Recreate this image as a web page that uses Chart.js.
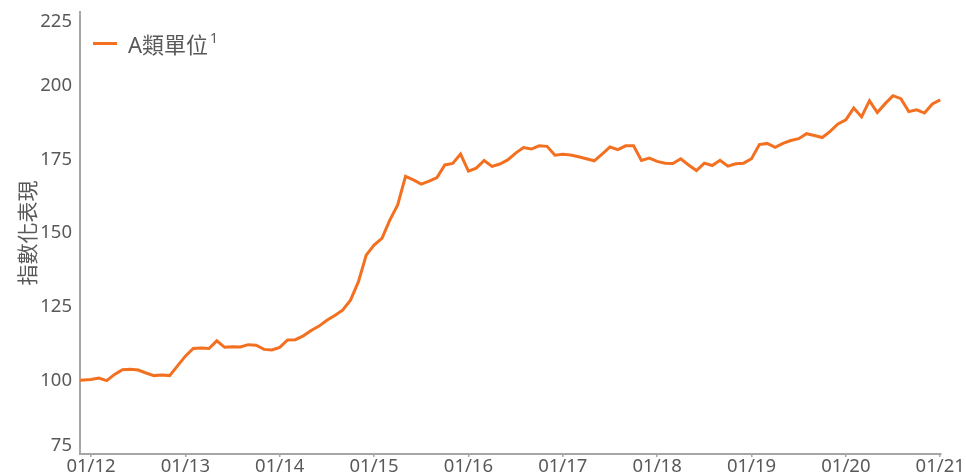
<!DOCTYPE html>
<html>
<head>
<meta charset="utf-8">
<script src="https://cdn.jsdelivr.net/npm/chart.js@4.4.1/dist/chart.umd.min.js"></script>
<style>
  html, body { margin: 0; padding: 0; background: #ffffff; }
  #wrap { width: 966px; height: 475px; }
</style>
</head>
<body>
<div id="wrap"><canvas id="c" width="966" height="475"></canvas></div>
<script>
// ---- data ----
const seriesName = 'A類單位';
const seriesNote = '1';
const yAxisTitle = '指數化表現';
const xTickLabels = ['01/12', '01/13', '01/14', '01/15', '01/16', '01/17', '01/18', '01/19', '01/20', '01/21'];
const xTickMonths = [0, 12, 24, 36, 48, 60, 72, 84, 96, 108];   // months after 01/12
const yTickValues = [75, 100, 125, 150, 175, 200, 225];
const inceptionMonth = -1.4;   // first point, shortly before 01/12
const inceptionValue = 100;
// month-end index values, 01/12 ... 01/21
const monthlyValues = [
  100.3, 100.8, 99.9, 102.0, 103.6, 103.8, 103.5, 102.5, 101.6, 101.8, 101.6, 104.9,
  108.2, 110.8, 111.0, 110.8, 113.4, 111.2, 111.4, 111.3, 112.1, 111.9, 110.5, 110.3,
  111.2, 113.7, 113.8, 115.1, 116.9, 118.4, 120.4, 122.0, 123.8, 127.2, 133.4, 142.5,
  145.9, 148.2, 154.4, 159.5, 169.2, 168.0, 166.6, 167.6, 168.8, 173.1, 173.6, 176.8,
  171.0, 172.0, 174.6, 172.6, 173.4, 174.8, 177.1, 179.0, 178.5, 179.6, 179.4, 176.4,
  176.7, 176.5, 175.9, 175.2, 174.5, 176.8, 179.2, 178.3, 179.6, 179.6, 174.6, 175.4,
  174.3, 173.7, 173.6, 175.2, 173.1, 171.2, 173.7, 172.9, 174.7, 172.7, 173.5, 173.7,
  175.2, 180.0, 180.4, 179.1, 180.4, 181.4, 182.0, 183.7, 183.1, 182.4, 184.5, 187.0,
  188.4, 192.4, 189.4, 194.9, 190.9, 193.9, 196.6, 195.6, 191.2, 191.8, 190.7, 193.8,
  195.2
];

// ---- styles ----
const ORANGE = '#f37021';
const TEXT = '#595959';
const AXIS = '#a6a6a6';
const FAMILY = '"Noto Sans", "Noto Sans CJK TC", sans-serif';

const points = [{ x: inceptionMonth, y: inceptionValue }]
  .concat(monthlyValues.map((v, i) => ({ x: i, y: v })));

Chart.defaults.font.family = FAMILY;
Chart.defaults.color = TEXT;

const edgeTickPlugin = {
  id: 'edgeTicks',
  afterLayout(chart) {
    const s = chart.scales.y;
    const items = s.getLabelItems();
    if (!items || !items.length) return;
    items[0].options.translation[1] -= 8.5;
    items[items.length - 1].options.translation[1] += 9.5;
  }
};

const legendPlugin = {
  id: 'innerLegend',
  afterDraw(chart) {
    const ctx = chart.ctx;
    const a = chart.chartArea;
    const ds = chart.data.datasets[0];
    ctx.save();
    ctx.strokeStyle = ds.borderColor;
    ctx.lineWidth = 3;
    ctx.beginPath();
    ctx.moveTo(a.left + 13, a.top + 31.5);
    ctx.lineTo(a.left + 37, a.top + 31.5);
    ctx.stroke();
    ctx.fillStyle = TEXT;
    ctx.textBaseline = 'alphabetic';
    ctx.textAlign = 'left';
    ctx.font = '22px ' + FAMILY;
    const tx = a.left + 48;
    ctx.fillText(ds.label, tx, a.top + 41);
    const w = ctx.measureText(ds.label).width;
    ctx.font = '14px ' + FAMILY;
    ctx.fillText(seriesNote, tx + w + 2, a.top + 31);
    ctx.restore();
  }
};

new Chart(document.getElementById('c'), {
  type: 'line',
  data: {
    datasets: [{
      label: seriesName,
      data: points,
      borderColor: ORANGE,
      backgroundColor: ORANGE,
      borderWidth: 3,
      pointRadius: 0,
      tension: 0,
      fill: false
    }]
  },
  options: {
    responsive: false,
    animation: false,
    layout: { padding: { top: 12, right: 25, left: 0, bottom: 0 } },
    plugins: { legend: { display: false }, tooltip: { enabled: false }, title: { display: false } },
    scales: {
      x: {
        type: 'linear',
        min: -1.4,
        max: 108.1,
        afterBuildTicks(scale) { scale.ticks = xTickMonths.map(v => ({ value: v })); },
        afterFit(scale) { scale.height = 21; scale.paddingLeft = 0; scale.paddingRight = 0; },
        ticks: {
          autoSkip: false,
          maxRotation: 0,
          padding: -1,
          color: TEXT,
          font: { size: 18.5 },
          callback: (v, i) => xTickLabels[i]
        },
        grid: { drawOnChartArea: false, drawTicks: true, tickLength: 3, color: AXIS, lineWidth: 1.5 },
        border: { display: true, color: AXIS, width: 2 }
      },
      y: {
        type: 'linear',
        min: 75,
        max: 225,
        afterBuildTicks(scale) { scale.ticks = yTickValues.map(v => ({ value: v })); },
        afterFit(scale) { scale.width = 80; scale.paddingTop = 0; scale.paddingBottom = 0; },
        ticks: { padding: 8, color: TEXT, font: { size: 18.5 } },
        grid: { drawOnChartArea: false, drawTicks: false },
        border: { display: true, color: AXIS, width: 2 },
        title: {
          display: true,
          text: yAxisTitle,
          color: TEXT,
          font: { size: 21 },
          padding: { top: 16, bottom: 0 }
        }
      }
    }
  },
  plugins: [edgeTickPlugin, legendPlugin]
});
</script>
</body>
</html>
